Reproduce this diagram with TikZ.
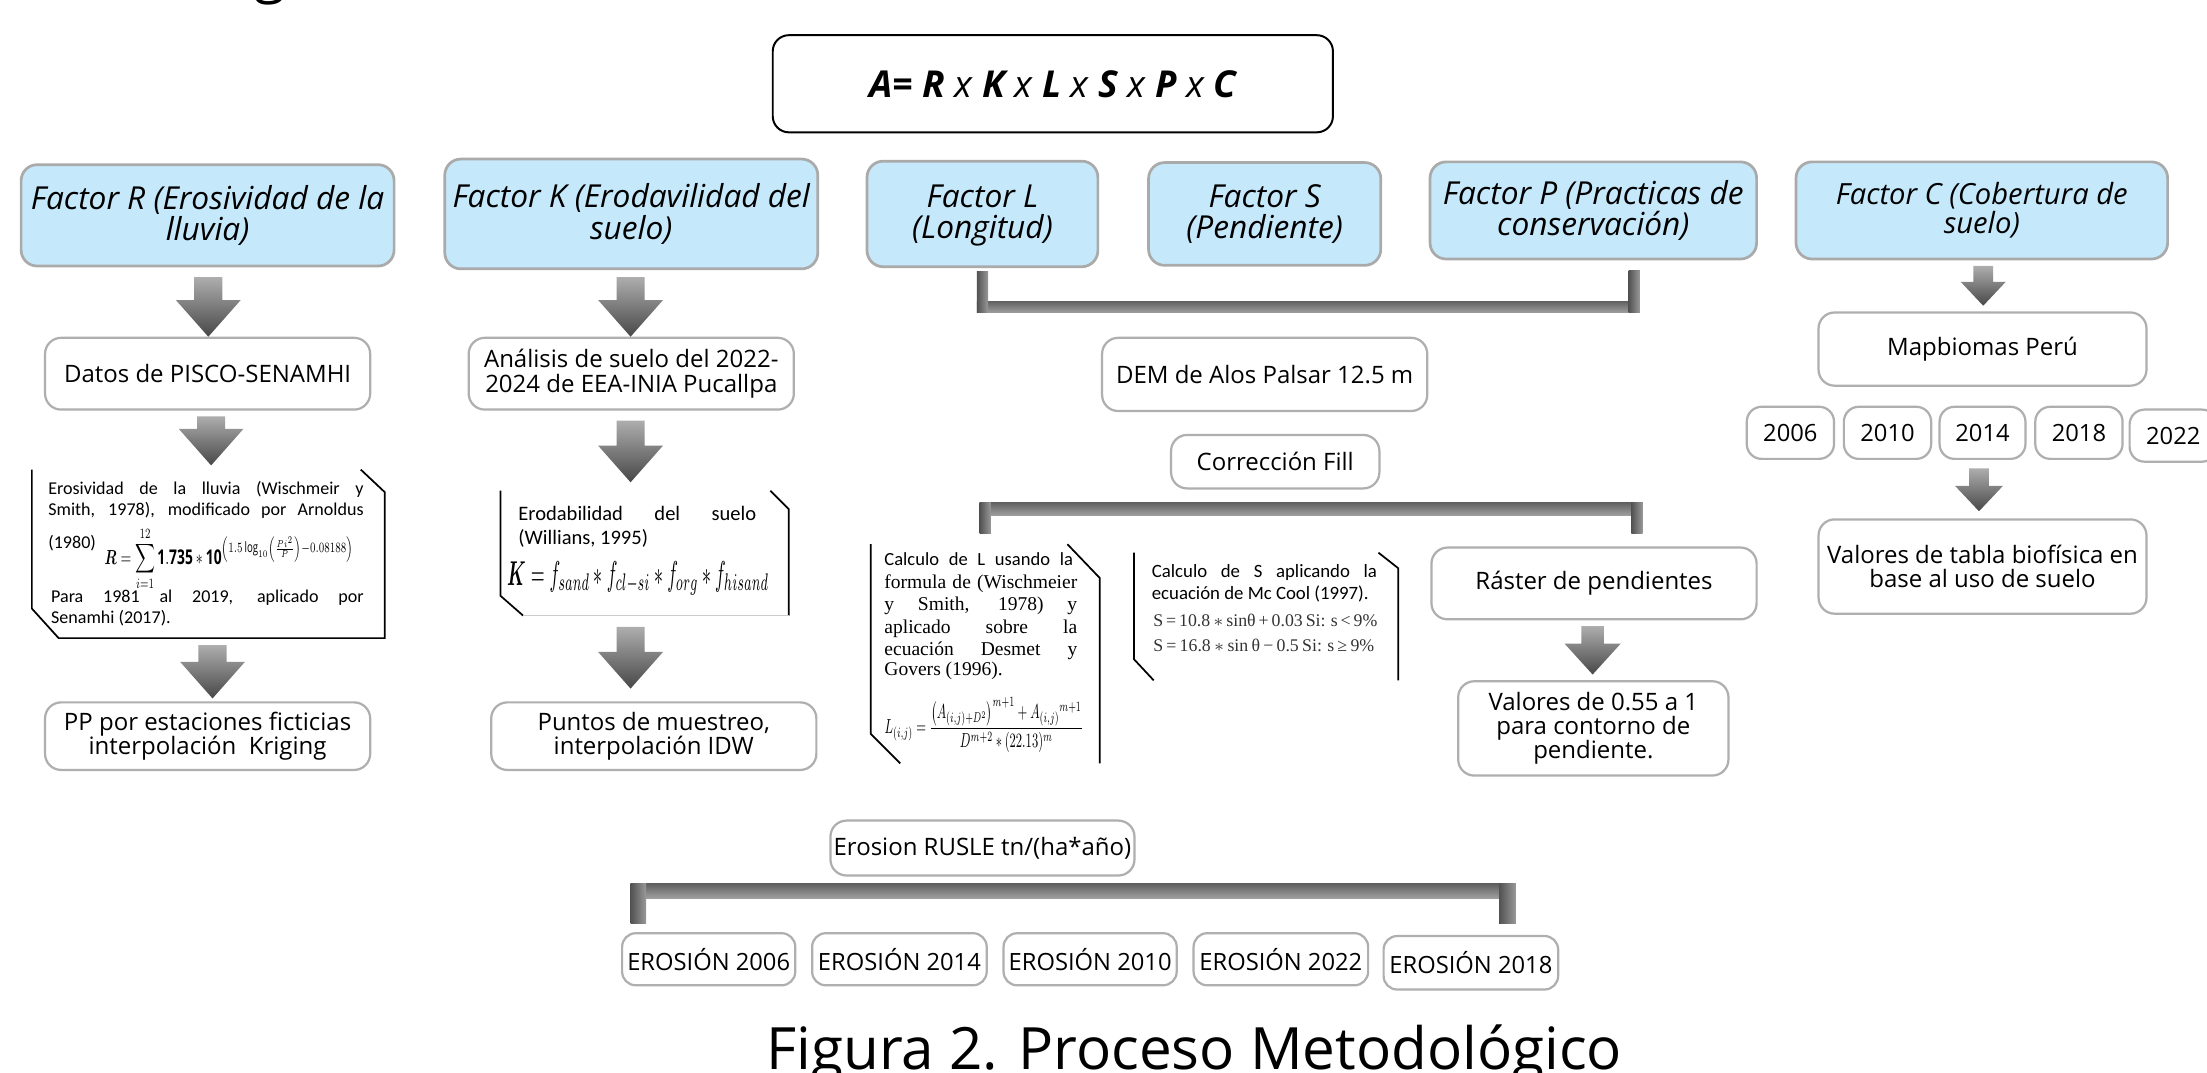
\documentclass[tikz,border=0pt]{standalone}
\usepackage{fontspec}
\usepackage{amsmath}
\usepackage{graphicx}
\setmainfont{Open Sans}
\newfontfamily\carl{Carlito}
\newfontfamily\tms{Liberation Serif}
\usetikzlibrary{calc}
\newdimen\U \U=0.02cm
\newcommand\pxu{0.02cm}
\definecolor{fblue}{RGB}{197,232,251}
\definecolor{fborder}{RGB}{170,170,170}
\definecolor{wborder}{RGB}{175,175,175}
\tikzset{
 sz/.style 2 args={minimum width=#1*0.02cm, minimum height=#2*0.02cm},
 fbox/.style={draw=fborder, line width=1.1pt, fill=fblue, rounded corners=6.5pt, align=center, inner sep=0pt, font=\fontsize{12.8}{12.6}\selectfont\itshape},
 wbox/.style={draw=wborder, line width=0.9pt, fill=white, rounded corners=6.5pt, align=center, inner sep=0pt, font=\fontsize{9.7}{9.8}\selectfont},
 ybox/.style={wbox, rounded corners=6pt, font=\fontsize{9.6}{10}\selectfont},
 ebox/.style={wbox, rounded corners=5.5pt, font=\fontsize{9.6}{10}\selectfont},
 eqbox/.style={draw=black, line width=0.8pt, rounded corners=6.5pt, inner sep=0pt, font=\fontsize{15}{15}\selectfont},
 ghost/.style={inner sep=0pt},
 shapeline/.style={draw=black, line width=0.7pt},
 arrshade/.style={top color=black!32, bottom color=black!72},
 barh/.style={top color=black!62, bottom color=black!38},
 barv/.style={left color=black!68, right color=black!40},
 txt/.style={inner sep=0pt, anchor=base west},
}
% block arrow: src, tgt, xshift, topgap, botgap, shaft half width, head half width, head length
\newcommand\barrow[8]{%
 \shade[arrshade] let \p1=(#1.south), \p2=(#2.north) in
 ({\x1+(#3-#6)*\pxu},{\y1-#4*\pxu}) -- ({\x1+(#3+#6)*\pxu},{\y1-#4*\pxu})
 -- ({\x1+(#3+#6)*\pxu},{\y2+(#5+#8)*\pxu}) -- ({\x1+(#3+#7)*\pxu},{\y2+(#5+#8)*\pxu})
 -- ({\x1+(#3)*\pxu},{\y2+#5*\pxu})
 -- ({\x1+(#3-#7)*\pxu},{\y2+(#5+#8)*\pxu}) -- ({\x1+(#3-#6)*\pxu},{\y2+(#5+#8)*\pxu}) -- cycle;}
\begin{document}
\begin{tikzpicture}[x=0.02cm, y=-0.02cm]
\useasboundingbox (0,0) rectangle (1568,762);
\clip (0,0) rectangle (1568,762);
\fill[white] (0,0) rectangle (1568,762);

% fragment of text above
\node[ghost, anchor=base, font=\fontsize{23}{23}\selectfont] (gfrag) at (192,-6) {g};

% equation
\node[eqbox, sz={398}{69}] (eq) at (748,59.5) {\bfseries\itshape A= R {\mdseries x} K {\mdseries x} L {\mdseries x} S {\mdseries x} P {\mdseries x} C};

% factor boxes
\node[fbox, sz={265}{72}] (fR) at (147.5,153) {Factor R (Erosividad de la\\lluvia)};
\node[fbox, sz={265}{78}] (fK) at (448.5,152) {Factor K (Erodavilidad del\\suelo)};
\node[fbox, sz={164}{75}, text depth=2pt] (fL) at (698,152) {Factor L\\(Longitud)};
\node[fbox, sz={165}{73}, text depth=2pt] (fS) at (898.5,152) {Factor S\\(Pendiente)};
\node[fbox, sz={232}{69}] (fP) at (1132,149.5) {Factor P (Practicas de\\conservación)};
\node[fbox, sz={264}{69}, font=\fontsize{11.8}{11.8}\selectfont\itshape] (fC) at (1408,149.5) {Factor C (Cobertura de\\suelo)};

% R column
\node[wbox, sz={231}{51}] (datos) at (147.5,265.5) {Datos de PISCO-SENAMHI};
\node[ghost, sz={250}{119}] (rform) at (148,393.5) {};
\draw[shapeline] ($(rform.north east)+(-17,0)$) -- ($(rform.north east)+(0,16)$) -- (rform.south east) -- ($(rform.south west)+(19,0)$) -- ($(rform.south west)+(0,-21)$) -- (rform.north west);
\begin{scope}[font=\carl\fontsize{7.3}{8}\selectfont]
\node[txt] (r1) at (34,351) {\makebox[224\U][s]{Erosividad de la lluvia (Wischmeir y}};
\node[txt] (r2) at (34,366) {\makebox[224\U][s]{Smith, 1978), modificado por Arnoldus}};
\node[txt] (r3) at (34,390) {(1980)};
\node[txt] (r4) at (36,428) {\makebox[222\U][s]{Para 1981 al 2019, aplicado por}};
\node[txt] (r5) at (36,443) {Senamhi (2017).};
\end{scope}
\node[ghost, anchor=west] (rf) at (74,397) {\resizebox{177\U}{26\U}{$\displaystyle \boldsymbol{R}=\sum_{i=1}^{12}\mathbf{1.735}\ast\mathbf{10}^{\left(1.5\log_{10}\left(\frac{Pi^{2}}{P}\right)-0.08188\right)}$}};
\node[wbox, sz={231}{48}] (pp) at (147.5,523) {PP por estaciones ficticias\\interpolación\ \ Kriging};

% K column
\node[wbox, sz={231}{51}] (anal) at (448.5,265.5) {Análisis de suelo del 2022-\\2024 de EEA-INIA Pucallpa};
\node[ghost, sz={204}{88}] (kform) at (458,393) {};
\draw[shapeline] ($(kform.north east)+(-13,0)$) -- ($(kform.north east)+(0,13)$) -- (kform.south east);
\draw[shapeline] (kform.north west) -- ($(kform.south west)+(0,-14)$) -- ($(kform.south west)+(16,0)$);
\draw[black!20, line width=0.5pt] ($(kform.south west)+(16,0)$) -- (kform.south east);
\begin{scope}[font=\carl\fontsize{8.3}{9}\selectfont]
\node[txt] (k1) at (368,370) {\makebox[169\U][s]{Erodabilidad del suelo}};
\node[txt] (k2) at (368,387) {(Willians, 1995)};
\end{scope}
\node[ghost, anchor=west] (kf) at (360,411) {\resizebox{186\U}{17\U}{$\boldsymbol{K}=f_{sand}\ast f_{cl-si}\ast f_{org}\ast f_{hisand}$}};
\node[wbox, sz={231}{48}] (puntos) at (464.5,523) {Puntos de muestreo,\\interpolación IDW};

% L / S / P chain
\node[wbox, sz={231}{52}] (dem) at (898.5,266) {DEM de Alos Palsar 12.5 m};
\node[wbox, sz={148}{38}] (fill) at (906,328) {Corrección Fill};

\node[ghost, sz={162}{155}] (lform) at (700,464.5) {};
\draw[shapeline] ($(lform.north east)+(-23,0)$) -- ($(lform.north east)+(0,24)$) -- (lform.south east);
\draw[shapeline] (lform.north west) -- ($(lform.south west)+(0,-21)$) -- ($(lform.south west)+(21,0)$);
\node[txt, font=\carl\fontsize{7.5}{8}\selectfont] (l1) at (628,402) {\makebox[134\U][s]{Calculo de L usando la}};
\begin{scope}[font=\tms\fontsize{7.9}{8}\selectfont]
\node[txt] (l2) at (628,418) {\makebox[137\U][s]{formula de (Wischmeier}};
\node[txt] (l3) at (628,434) {\makebox[137\U][s]{y Smith, 1978) y}};
\node[txt] (l4) at (628,450) {\makebox[137\U][s]{aplicado sobre la}};
\node[txt] (l5) at (628,466) {\makebox[137\U][s]{ecuación Desmet y}};
\node[txt] (l6) at (628,480) {Govers (1996).};
\end{scope}
\node[ghost] (lf) at (699,515) {\resizebox{141\U}{26\U}{$L_{(i,j)}=\dfrac{\left(A_{(i,j)+D^2}\right)^{m+1}+A_{(i,j)}{}^{m+1}}{D^{m+2}\ast(22.13)^{m}}$}};

\node[ghost, sz={187}{90}] (sform) at (899.5,438) {};
\draw[shapeline] ($(sform.north east)+(-14,0)$) -- ($(sform.north east)+(0,11)$) -- (sform.south east);
\draw[shapeline] (sform.north west) -- ($(sform.south west)+(0,-15)$) -- ($(sform.south west)+(14,0)$);
\begin{scope}[font=\carl\fontsize{7.6}{8}\selectfont]
\node[txt] (s1) at (818,410) {\makebox[160\U][s]{Calculo de S aplicando la}};
\node[txt] (s2) at (818,426) {ecuación de Mc Cool (1997).};
\end{scope}
\begin{scope}[font=\tms\fontsize{7.2}{8}\selectfont, text=black!80]
\node[txt] (s3) at (819,445) {\makebox[157\U][s]{S = 10.8 $\ast$ sinθ + 0.03 Si: s < 9\%}};
\node[txt] (s4) at (819,463) {\makebox[157\U][s]{S = 16.8 $\ast$ sin θ − 0.5 Si: s ≥ 9\%}};
\end{scope}

\node[wbox, sz={231}{51}] (raster) at (1132.5,414.5) {Ráster de pendientes};
\node[wbox, sz={192}{67}] (val) at (1132,517.5) {Valores de 0.55 a 1\\para contorno de\\pendiente.};

% C column
\node[wbox, sz={233}{52}] (mapb) at (1408.5,248) {Mapbiomas Perú};
\node[ybox, sz={62}{37}] (y2006) at (1272,307.5) {2006};
\node[ybox, sz={62}{37}] (y2010) at (1341,307.5) {2010};
\node[ybox, sz={61}{37}] (y2014) at (1408.5,307.5) {2014};
\node[ybox, sz={62}{37}] (y2018) at (1477,307.5) {2018};
\node[ybox, sz={62}{37}] (y2022) at (1544,309.5) {2022};
\node[wbox, sz={233}{67}] (valt) at (1408.5,402.5) {Valores de tabla biofísica en\\base al uso de suelo};

% bottom
\node[wbox, sz={216}{39}, inner sep=1pt] (rusle) at (698,602.5) {Erosion RUSLE tn/(ha*año)};
\node[ebox, sz={123}{37}] (e2006) at (503.5,681.5) {EROSIÓN 2006};
\node[ebox, sz={124}{37}] (e2014) at (639,681.5) {EROSIÓN 2014};
\node[ebox, sz={123}{37}] (e2010) at (774.5,681.5) {EROSIÓN 2010};
\node[ebox, sz={124}{37}] (e2022) at (910,681.5) {EROSIÓN 2022};
\node[ebox, sz={124}{38}] (e2018) at (1045,684) {EROSIÓN 2018};

\node[ghost, anchor=base, font=\fontsize{23.6}{23.6}\selectfont] (title) at (848.5,760) {Figura 2. Proceso Metodológico};

% block arrows
\barrow{fR}{datos}{0.5}{7}{0}{10}{23}{26}
\barrow{datos}{rform}{2.5}{4}{3}{10}{23}{26}
\barrow{rform}{pp}{3}{5}{2}{10}{23}{26}
\barrow{fK}{anal}{-0.5}{5}{0}{10}{23}{26}
\barrow{anal}{kform}{-0.5}{7}{6}{10}{23}{26}
\barrow{kform}{puntos}{-10}{8}{9}{10}{23}{26}
\barrow{raster}{val}{-1}{4}{4}{8}{20}{22}
\barrow{fC}{mapb}{1}{4}{4}{7}{16}{17}
\barrow{y2014}{valt}{-2.5}{6}{5}{7}{17}{18}

% brackets
\shade[barh] (694,214) rectangle (1165,222);
\shade[barv] (694,193) rectangle (702,222);
\shade[barv] (1157,192) rectangle (1165,222);

\shade[barh] (696,357) rectangle (1167,366);
\shade[barv] (696,357) rectangle (704,379);
\shade[barv] (1159,357) rectangle (1167,379);

\shade[barh] (448,628) rectangle (1077,638);
\shade[barv] (448,628) rectangle (459,656);
\shade[barv] (1065,628) rectangle (1077,656);
\end{tikzpicture}
\end{document}
